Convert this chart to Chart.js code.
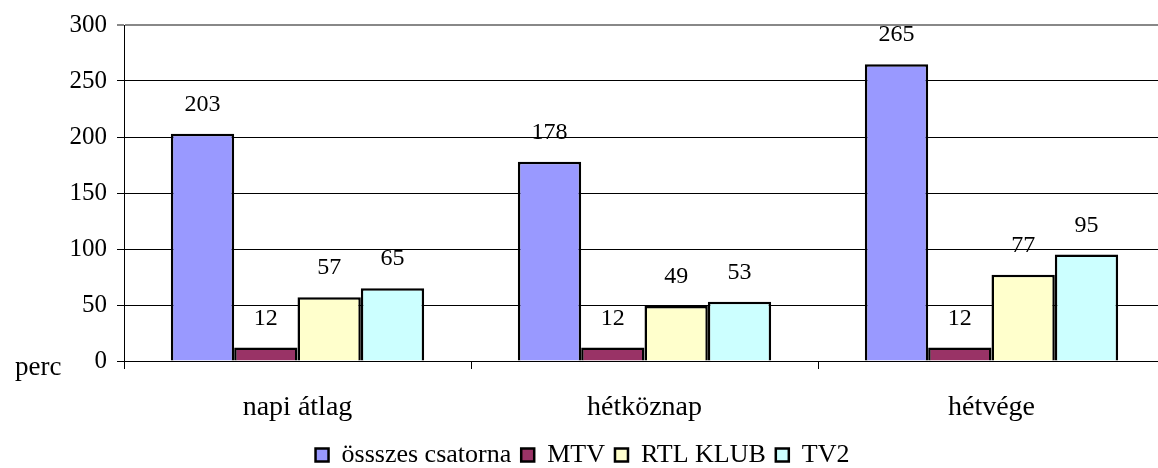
<!DOCTYPE html>
<html>
<head>
<meta charset="utf-8">
<script src="https://cdn.jsdelivr.net/npm/chart.js@4.4.1/dist/chart.umd.min.js"></script>
<style>
  html, body { margin: 0; padding: 0; background: #fff; overflow: hidden; }
  #wrap { width: 1172px; height: 468px; }
</style>
</head>
<body>
<div id="wrap"><canvas id="grafikon" width="1172" height="468"></canvas></div>
<script>
const kategoriak = ["napi átlag", "hétköznap", "hétvége"];
const osszes = [203, 178, 265];
const mtv = [12, 12, 12];
const rtl = [57, 49, 77];
const tv2 = [65, 53, 95];
const yTicks = [0, 50, 100, 150, 200, 250, 300];

const betu = "'Liberation Serif', 'Times New Roman', serif";

// ertekek a oszlopok folott
const ertekFelirat = {
    id: 'ertekFelirat',
    afterDatasetsDraw(chart) {
        const ctx = chart.ctx;
        ctx.save();
        ctx.font = "24px " + betu;
        ctx.fillStyle = "#000";
        ctx.textAlign = "center";
        ctx.textBaseline = "middle";
        chart.data.datasets.forEach(function (ds, i) {
            chart.getDatasetMeta(i).data.forEach(function (bar, j) {
                ctx.fillText(ds.data[j], bar.x, bar.y - 29);
            });
        });
        // "perc" felirat bal also sarokban
        ctx.font = "27px " + betu;
        ctx.textAlign = "left";
        ctx.fillText("perc", 15, chart.chartArea.bottom + 7);
        ctx.restore();
    }
};

new Chart(document.getElementById("grafikon"), {
    type: 'bar',
    data: {
        labels: kategoriak,
        datasets: [
            { label: "össszes csatorna", data: osszes, backgroundColor: "#9999FF", borderColor: "#000", borderWidth: 2.5 },
            { label: "MTV", data: mtv, backgroundColor: "#993366", borderColor: "#000", borderWidth: 2.5 },
            { label: "RTL KLUB", data: rtl, backgroundColor: "#FFFFCC", borderColor: "#000", borderWidth: 2.5 },
            { label: "TV2", data: tv2, backgroundColor: "#CCFFFF", borderColor: "#000", borderWidth: 2.5 }
        ]
    },
    options: {
        responsive: false,
        animation: false,
        categoryPercentage: 0.73,
        barPercentage: 1.0,
        layout: { padding: { left: 0, top: 25, right: 7, bottom: -10 } },
        plugins: {
            legend: {
                position: 'bottom',
                labels: {
                    font: { family: betu, size: 26 },
                    color: "#000",
                    boxWidth: 13,
                    boxHeight: 13,
                    padding: 10
                }
            },
            tooltip: { enabled: false }
        },
        scales: {
            x: {
                grid: { drawOnChartArea: false, color: "#000", tickLength: 8, offset: true },
                border: { color: "#000", width: 1 },
                ticks: { font: { family: betu, size: 28 }, color: "#000", padding: 22 },
                afterFit: function (s) { s.height = 71; }
            },
            y: {
                min: 0,
                max: 300,
                afterBuildTicks: function (s) { s.ticks = yTicks.map(v => ({ value: v })); },
                grid: {
                    color: c => c.tick && c.tick.value === 300 ? "#888" : "#000",
                    lineWidth: c => c.tick && c.tick.value === 300 ? 2 : 1,
                    tickLength: 7
                },
                border: { color: "#000", width: 1 },
                ticks: { font: { family: betu, size: 25 }, color: "#000", padding: 10 },
                afterFit: function (s) { s.width = 124; }
            }
        }
    },
    plugins: [ertekFelirat]
});
</script>
</body>
</html>
